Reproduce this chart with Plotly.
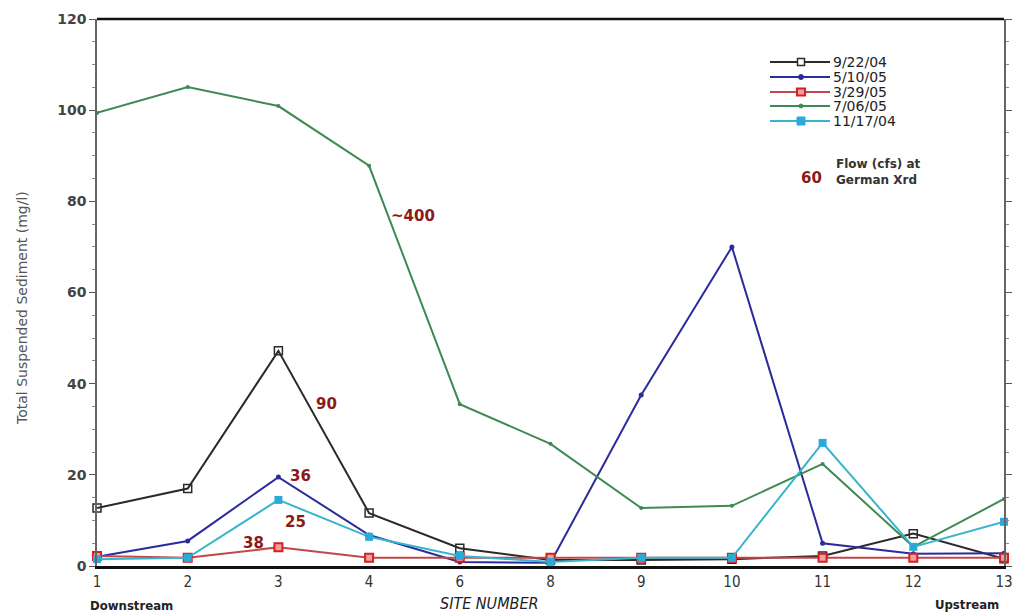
import plotly.graph_objects as go

sites = ["1", "2", "3", "4", "6", "8", "9", "10", "11", "12", "13"]
s_0922_04 = [12.7, 17.0, 47.2, 11.6, 3.9, 1.3, 1.3, 1.5, 2.2, 7.1, 1.6]
s_0510_05 = [2.0, 5.5, 19.5, 6.8, 0.9, 0.7, 37.5, 70.0, 5.0, 2.7, 2.8]
s_0329_05 = [2.2, 1.8, 4.1, 1.8, 1.8, 1.8, 1.8, 1.8, 1.8, 1.8, 1.8]
s_0706_05 = [99.4, 105.1, 100.9, 87.8, 35.5, 26.8, 12.7, 13.2, 22.4, 4.2, 14.7]
s_1117_04 = [1.5, 1.8, 14.5, 6.4, 2.2, 0.9, 1.8, 1.8, 27.0, 4.2, 9.7]
legend_names = ["9/22/04", "5/10/05", "3/29/05", "7/06/05", "11/17/04"]
flow_texts = ["~400", "90", "36", "25", "38", "60"]

colors = ["#2a2a2a", "#2b2b9c", "#c04848", "#3f8a52", "#3ab4cc"]
markers = [
    dict(symbol="square-open", size=8, color="#2a2a2a", line=dict(width=1.5)),
    dict(symbol="circle", size=5, color="#2b2b9c"),
    dict(symbol="square", size=8, color="#f0a0a0", line=dict(color="#d42020", width=2)),
    dict(symbol="circle", size=4, color="#3f8a52"),
    dict(symbol="square", size=8, color="#2aaad8"),
]
all_series = [s_0922_04, s_0510_05, s_0329_05, s_0706_05, s_1117_04]

W, H = 1014, 615
L, R, T, B = 97, 10, 19, 49
PW, PH = W - L - R, H - T - B


def px(x):
    return (x - L) / PW


def py(y):
    return (H - B - y) / PH


fig = go.Figure()
for name, vals, col, mk in zip(legend_names, all_series, colors, markers):
    fig.add_trace(go.Scatter(x=sites, y=vals, name=name, mode="lines+markers",
                             line=dict(color=col, width=2), marker=mk, cliponaxis=False,
                             showlegend=False))

# manual legend (compact row spacing as in the reference)
leg_y = [62, 77, 92, 106, 121]
for i, (name, col) in enumerate(zip(legend_names, colors)):
    yy = py(leg_y[i])
    fig.add_shape(type="line", xref="paper", yref="paper", x0=px(770), x1=px(830), y0=yy, y1=yy,
                  line=dict(color=col, width=2))
    cx = px(801)
    if i == 0:
        fig.add_shape(type="rect", xref="paper", yref="paper", x0=cx - 3.5 / PW, x1=cx + 3.5 / PW,
                      y0=yy - 3.5 / PH, y1=yy + 3.5 / PH, line=dict(color=col, width=1.5), fillcolor="white")
    elif i == 2:
        fig.add_shape(type="rect", xref="paper", yref="paper", x0=cx - 4 / PW, x1=cx + 4 / PW,
                      y0=yy - 3.5 / PH, y1=yy + 3.5 / PH, line=dict(color="#d42020", width=2), fillcolor="#f0a0a0")
    elif i == 4:
        fig.add_shape(type="rect", xref="paper", yref="paper", x0=cx - 4 / PW, x1=cx + 4 / PW,
                      y0=yy - 4 / PH, y1=yy + 4 / PH, line=dict(color="#2aaad8", width=1), fillcolor="#2aaad8")
    else:
        r = 2.5 if i == 1 else 2
        fig.add_shape(type="circle", xref="paper", yref="paper", x0=cx - r / PW, x1=cx + r / PW,
                      y0=yy - r / PH, y1=yy + r / PH, line=dict(color=col, width=1), fillcolor=col)
    fig.add_annotation(xref="paper", yref="paper", x=px(831), y=yy, xanchor="left", yanchor="middle",
                       text=name, showarrow=False,
                       font=dict(family="DejaVu Sans", size=14, color="#222"))

ann_col = "#8b1a1a"
flow_pos = [(413, 216), (326, 404), (300, 476), (295, 522), (253, 543), (811, 178)]
for t, (ax, ay) in zip(flow_texts, flow_pos):
    fig.add_annotation(xref="paper", yref="paper", x=px(ax), y=py(ay), text="<b>" + t + "</b>",
                       showarrow=False, xanchor="center", yanchor="middle",
                       font=dict(family="DejaVu Sans", size=15, color=ann_col))

fig.add_annotation(xref="paper", yref="paper", x=px(834), y=py(172), xanchor="left", yanchor="middle",
                   align="left", text="<b>Flow (cfs) at<br>German Xrd</b>", showarrow=False,
                   font=dict(family="DejaVu Sans", size=12, color="#333"))

fig.add_annotation(xref="paper", yref="paper", x=px(88), y=py(605), xanchor="left", yanchor="middle",
                   text="<b>Downstream</b>", showarrow=False,
                   font=dict(family="DejaVu Sans Condensed", size=13, color="#222"))
fig.add_annotation(xref="paper", yref="paper", x=px(1001), y=py(604), xanchor="right", yanchor="middle",
                   text="<b>Upstream</b>", showarrow=False,
                   font=dict(family="DejaVu Sans Condensed", size=13, color="#222"))
fig.add_annotation(xref="paper", yref="paper", x=px(489), y=py(603), xanchor="center", yanchor="middle",
                   text="<i>SITE NUMBER</i>", showarrow=False,
                   font=dict(family="DejaVu Sans Condensed", size=16, color="#222"))
fig.add_annotation(xref="paper", yref="paper", x=px(22), y=py(308), xanchor="center", yanchor="middle",
                   text="Total Suspended Sediment (mg/l)", textangle=-90, showarrow=False,
                   font=dict(family="DejaVu Sans", size=14, color="#555"))

fig.update_layout(
    width=W, height=H,
    margin=dict(l=L, r=R, t=T, b=B, autoexpand=False),
    paper_bgcolor="white", plot_bgcolor="white",
    font=dict(family="DejaVu Sans", color="#333"),
    showlegend=False,
    xaxis=dict(type="category", categoryorder="array", categoryarray=sites, range=[0, 10],
               automargin=False, showgrid=False, zeroline=False, showline=True, linecolor="#111",
               linewidth=3, mirror=False, ticks="",
               tickfont=dict(family="DejaVu Sans Condensed", size=15, color="#333")),
    yaxis=dict(range=[0, 120], dtick=20, automargin=False, showgrid=False, zeroline=False, showline=True,
               linecolor="#666", linewidth=1.5, mirror="ticks", ticks="outside", ticklen=6,
               tickcolor="#555", tickfont=dict(family="DejaVu Sans", size=14, color="#444", weight="bold"),
               minor=dict(dtick=5, ticks="outside", ticklen=3, tickcolor="#888")),
)
fig.add_shape(type="line", xref="paper", yref="paper", x0=0, x1=1, y0=1, y1=1,
              line=dict(color="#111", width=2.5))

fig.write_html("out.html", config={"displayModeBar": False},
               post_script="document.body.style.margin='0';document.body.style.overflow='hidden';")
